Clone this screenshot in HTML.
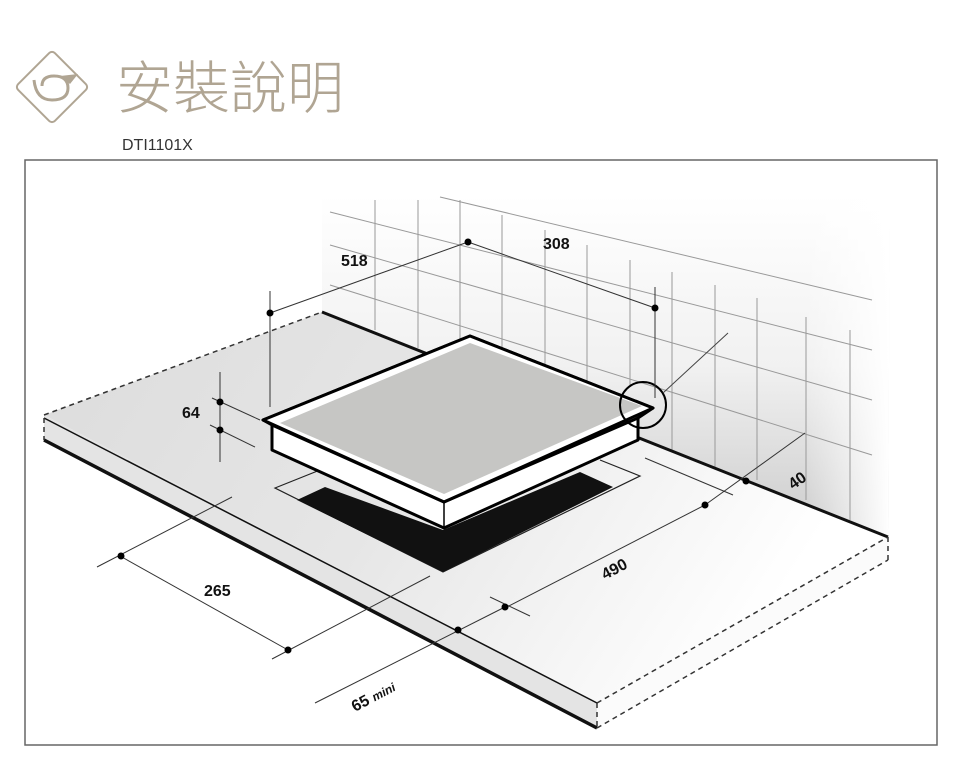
<!DOCTYPE html>
<html><head><meta charset="utf-8"><style>
body{margin:0;background:#fff;width:960px;height:768px;overflow:hidden;font-family:"Liberation Sans",sans-serif}
</style></head><body>
<svg width="960" height="768" viewBox="0 0 960 768" xmlns="http://www.w3.org/2000/svg">
<defs>
<linearGradient id="wall" x1="0" y1="0" x2="0" y2="1">
<stop offset="0" stop-color="#fff"/><stop offset="0.5" stop-color="#f1f1f1"/><stop offset="1" stop-color="#cbcbcb"/></linearGradient>
<linearGradient id="wallr" x1="0" y1="0" x2="1" y2="0">
<stop offset="0.85" stop-color="#fff" stop-opacity="0"/><stop offset="1" stop-color="#fff" stop-opacity="1"/></linearGradient>
<linearGradient id="top" x1="0" y1="0" x2="1" y2="0.3">
<stop offset="0" stop-color="#dcdcdc"/><stop offset="0.5" stop-color="#e6e6e6"/><stop offset="1" stop-color="#ffffff"/></linearGradient>
</defs>
<!-- header -->
<g transform="translate(52,87) rotate(45)">
<rect x="-26" y="-26" width="52" height="52" rx="4" fill="none" stroke="#b0a593" stroke-width="2"/>
</g>
<path d="M34 80 Q36 100 52 100 Q68 100 68 88 Q68 76 54 76 Q42 76 42 86" fill="none" stroke="#b0a593" stroke-width="3"/>
<path d="M60 76 L78 74 L70 84 Z" fill="#b0a593"/>
<text x="116" y="108" font-family="'Liberation Sans','Noto Sans CJK TC',sans-serif" font-size="57" fill="#b0a593" font-weight="300">安裝說明</text>
<text x="122" y="150" font-size="16" fill="#333">DTI1101X</text>
<!-- frame -->
<rect x="25" y="160" width="912" height="585" fill="none" stroke="#666" stroke-width="1.5"/>
<!-- wall -->
<polygon points="322,195 890,195 888,537 322,312" fill="url(#wall)"/>
<polygon points="322,195 890,195 888,537 322,312" fill="url(#wallr)"/>
<g stroke="#999" stroke-width="1" fill="none">
<line x1="375" y1="200" x2="375" y2="330"/><line x1="418" y1="200" x2="418" y2="348"/>
<line x1="460" y1="200" x2="460" y2="345"/><line x1="502" y1="215" x2="502" y2="370"/>
<line x1="545" y1="230" x2="545" y2="380"/><line x1="587" y1="245" x2="587" y2="400"/>
<line x1="630" y1="260" x2="630" y2="385"/><line x1="672" y1="272" x2="672" y2="450"/>
<line x1="715" y1="285" x2="715" y2="470"/><line x1="757" y1="298" x2="757" y2="480"/>
<line x1="806" y1="317" x2="806" y2="500"/><line x1="850" y1="330" x2="850" y2="520"/>
<line x1="330" y1="212" x2="872" y2="350"/><line x1="330" y1="245" x2="872" y2="400"/>
<line x1="330" y1="285" x2="872" y2="455"/>
<line x1="440" y1="197" x2="872" y2="300"/>
</g>
<!-- countertop -->
<polygon points="44,415 322,312 888,537 597,703" fill="url(#top)"/>
<polygon points="44,415 597,703 597,728 44,440" fill="#e4e4e4"/>
<polygon points="597,703 888,537 888,560 597,728" fill="#fbfbfb"/>
<line x1="322" y1="312" x2="888" y2="537" stroke="#111" stroke-width="3"/>
<line x1="44" y1="418" x2="597" y2="703" stroke="#111" stroke-width="1.5"/>
<line x1="44" y1="440" x2="597" y2="728" stroke="#111" stroke-width="3.5"/>
<g stroke="#333" stroke-width="1.5" stroke-dasharray="5,4" fill="none">
<line x1="44" y1="415" x2="322" y2="312"/><line x1="44" y1="418" x2="44" y2="440"/>
<line x1="597" y1="703" x2="888" y2="537"/><line x1="597" y1="728" x2="888" y2="560"/>
<line x1="888" y1="537" x2="888" y2="560"/><line x1="597" y1="703" x2="597" y2="728"/>
</g>
<!-- cutout -->
<polyline points="320,470 275,488 443,572 640,476 600,460" fill="none" stroke="#222" stroke-width="1.2"/>
<polygon points="297,500 443,572 613,487 580,472 443,530 325,487" fill="#111"/>
<!-- hob -->
<polygon points="263,420 272,425 272,450 444,528 638,440 638,418 653,408 470,336" fill="#fff" stroke="#000" stroke-width="3" stroke-linejoin="round"/>
<polygon points="263,420 470,336 653,408 444,502" fill="#fff" stroke="#000" stroke-width="3" stroke-linejoin="round"/>
<polygon points="280,423 470,343 642,406 444,494" fill="#c6c6c4"/>
<line x1="444" y1="502" x2="444" y2="528" stroke="#000" stroke-width="1.5"/>
<polyline points="272,425 444,502 638,418" fill="none" stroke="#000" stroke-width="3"/>
<!-- circle -->
<circle cx="643" cy="405" r="23" fill="none" stroke="#000" stroke-width="2"/>
<line x1="663" y1="393" x2="728" y2="333" stroke="#444" stroke-width="1"/>
<!-- dims -->
<g stroke="#333" stroke-width="1" fill="none">
<line x1="270" y1="291" x2="270" y2="407"/>
<line x1="270" y1="313" x2="468" y2="242"/>
<line x1="468" y1="242" x2="655" y2="308"/>
<line x1="655" y1="287" x2="655" y2="398"/>
<line x1="220" y1="372" x2="220" y2="462"/>
<line x1="212" y1="398" x2="260" y2="420"/><line x1="210" y1="425" x2="255" y2="447"/>
<line x1="705" y1="505" x2="805" y2="433"/>
<line x1="645" y1="458" x2="733" y2="495"/>
<line x1="505" y1="608" x2="705" y2="505"/>
<line x1="490" y1="597" x2="530" y2="616"/>
<line x1="97" y1="567" x2="232" y2="497"/>
<line x1="120" y1="556" x2="288" y2="650"/>
<line x1="272" y1="659" x2="430" y2="576"/>
<line x1="315" y1="703" x2="505" y2="607"/>
</g>
<g fill="#000">
<circle cx="270" cy="313" r="3.5"/><circle cx="468" cy="242" r="3.5"/><circle cx="655" cy="308" r="3.5"/>
<circle cx="220" cy="402" r="3.5"/><circle cx="220" cy="430" r="3.5"/>
<circle cx="705" cy="505" r="3.5"/><circle cx="746" cy="481" r="3.5"/>
<circle cx="505" cy="607" r="3.5"/><circle cx="458" cy="630" r="3.5"/>
<circle cx="121" cy="556" r="3.5"/><circle cx="288" cy="650" r="3.5"/>
</g>
<g font-weight="bold" font-size="16" fill="#111">
<text x="341" y="266">518</text>
<text x="543" y="249">308</text>
<text x="182" y="418">64</text>
<text x="204" y="596">265</text>
<text transform="translate(793,490) rotate(-35)">40</text>
<text transform="translate(605,580) rotate(-28)">490</text>
<text transform="translate(355,712) rotate(-28)">65 <tspan font-size="12" font-style="italic">mini</tspan></text>
</g>
</svg>
</body></html>
